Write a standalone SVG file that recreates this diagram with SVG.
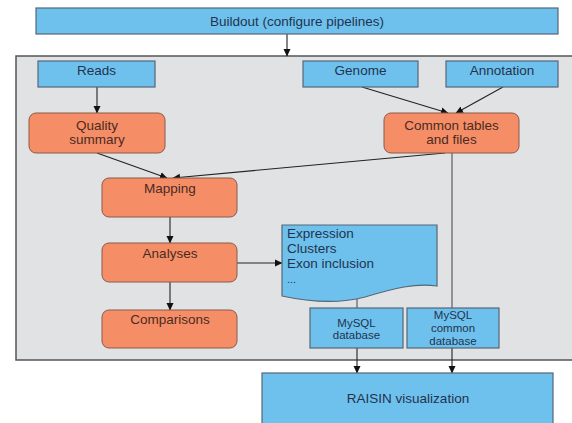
<svg xmlns="http://www.w3.org/2000/svg" width="572" height="423" viewBox="0 0 572 423">
<defs>
<marker id="ah" markerWidth="8" markerHeight="8" refX="7" refY="4" orient="auto" markerUnits="userSpaceOnUse">
<path d="M0,0.5 L7.5,4 L0,7.5 Z" fill="#111"/>
</marker>
<style>
.blue{fill:#6ec1ec;stroke:#55677a;stroke-width:1.2}
.orange{fill:#f58e66;stroke:#8a5a4a;stroke-width:1}
.t{font-family:"Liberation Sans",Arial,sans-serif;font-size:13.5px;text-anchor:middle}
.tb{fill:#23334f}
.to{fill:#4a2a22}
.sm{font-size:11.5px}
.conn{fill:none;stroke:#222;stroke-width:1.1}
.connl{fill:none;stroke:#444;stroke-width:1}
</style>
</defs>
<rect width="572" height="423" fill="#ffffff"/>
<rect id="panel" x="16" y="56" width="570" height="304" fill="#e1e2e4" stroke="#555" stroke-width="1.5"/>

<g id="connectors">
<line class="conn" x1="287" y1="34" x2="287" y2="56" marker-end="url(#ah)"/>
<line class="conn" x1="97" y1="87" x2="97" y2="113" marker-end="url(#ah)"/>
<line class="conn" x1="362" y1="87" x2="448" y2="113" marker-end="url(#ah)"/>
<line class="conn" x1="503" y1="87" x2="456" y2="113" marker-end="url(#ah)"/>
<line class="conn" x1="97" y1="153" x2="167" y2="178" marker-end="url(#ah)"/>
<line class="conn" x1="445" y1="153" x2="173" y2="178" marker-end="url(#ah)"/>
<line class="conn" x1="170" y1="217" x2="170" y2="243" marker-end="url(#ah)"/>
<line class="conn" x1="170" y1="282" x2="170" y2="310" marker-end="url(#ah)"/>
<line class="conn" x1="237" y1="263" x2="282" y2="263" marker-end="url(#ah)"/>
<line class="connl" x1="357" y1="299" x2="357" y2="308"/>
<line class="connl" x1="452" y1="153" x2="452" y2="308"/>
<line class="conn" x1="357" y1="348" x2="357" y2="373" marker-end="url(#ah)"/>
<line class="conn" x1="452" y1="348" x2="452" y2="373" marker-end="url(#ah)"/>
</g>

<g id="buildout">
<rect class="blue" x="36" y="8" width="522" height="26"/>
<text class="t tb" x="297" y="25.5">Buildout (configure pipelines)</text>
</g>
<g id="reads">
<rect class="blue" x="38" y="61" width="117" height="26"/>
<text class="t tb" x="96.5" y="75">Reads</text>
</g>
<g id="genome">
<rect class="blue" x="303" y="61" width="115" height="26"/>
<text class="t tb" x="360.5" y="75">Genome</text>
</g>
<g id="annotation">
<rect class="blue" x="446" y="61" width="112" height="26"/>
<text class="t tb" x="502" y="75">Annotation</text>
</g>
<g id="quality">
<rect class="orange" x="29" y="113" width="136" height="40" rx="7"/>
<text class="t to" x="97" y="129.5">Quality</text>
<text class="t to" x="97" y="143.5">summary</text>
</g>
<g id="common">
<rect class="orange" x="384" y="113" width="135" height="40" rx="7"/>
<text class="t to" x="451.5" y="129.5">Common tables</text>
<text class="t to" x="451.5" y="143.5">and files</text>
</g>
<g id="mapping">
<rect class="orange" x="102" y="178" width="135" height="39" rx="7"/>
<text class="t to" x="170" y="193">Mapping</text>
</g>
<g id="analyses">
<rect class="orange" x="102" y="243" width="135" height="39" rx="7"/>
<text class="t to" x="170" y="258">Analyses</text>
</g>
<g id="comparisons">
<rect class="orange" x="102" y="310" width="135" height="38" rx="7"/>
<text class="t to" x="170" y="324">Comparisons</text>
</g>
<g id="results">
<path class="blue" d="M282,225 H437 V286 C415,283 395,288 365,297 C335,305 305,301 282,296 Z"/>
<g class="t tb" style="text-anchor:start">
<text x="287" y="237.5">Expression</text>
<text x="287" y="252.5">Clusters</text>
<text x="287" y="267.5">Exon inclusion</text>
<text x="287" y="283" style="font-size:11px">...</text>
</g>
</g>
<g id="mysql">
<rect class="blue" x="310" y="308" width="93" height="40"/>
<text class="t tb sm" x="356.5" y="327">MySQL</text>
<text class="t tb sm" x="356.5" y="339">database</text>
</g>
<g id="mysqlcommon">
<rect class="blue" x="407" y="308" width="92" height="40"/>
<text class="t tb sm" x="453" y="318.5">MySQL</text>
<text class="t tb sm" x="453" y="331.5">common</text>
<text class="t tb sm" x="453" y="345">database</text>
</g>
<g id="raisin">
<rect class="blue" x="262" y="373" width="291" height="60"/>
<text class="t tb" x="408" y="403">RAISIN visualization</text>
</g>
</svg>
